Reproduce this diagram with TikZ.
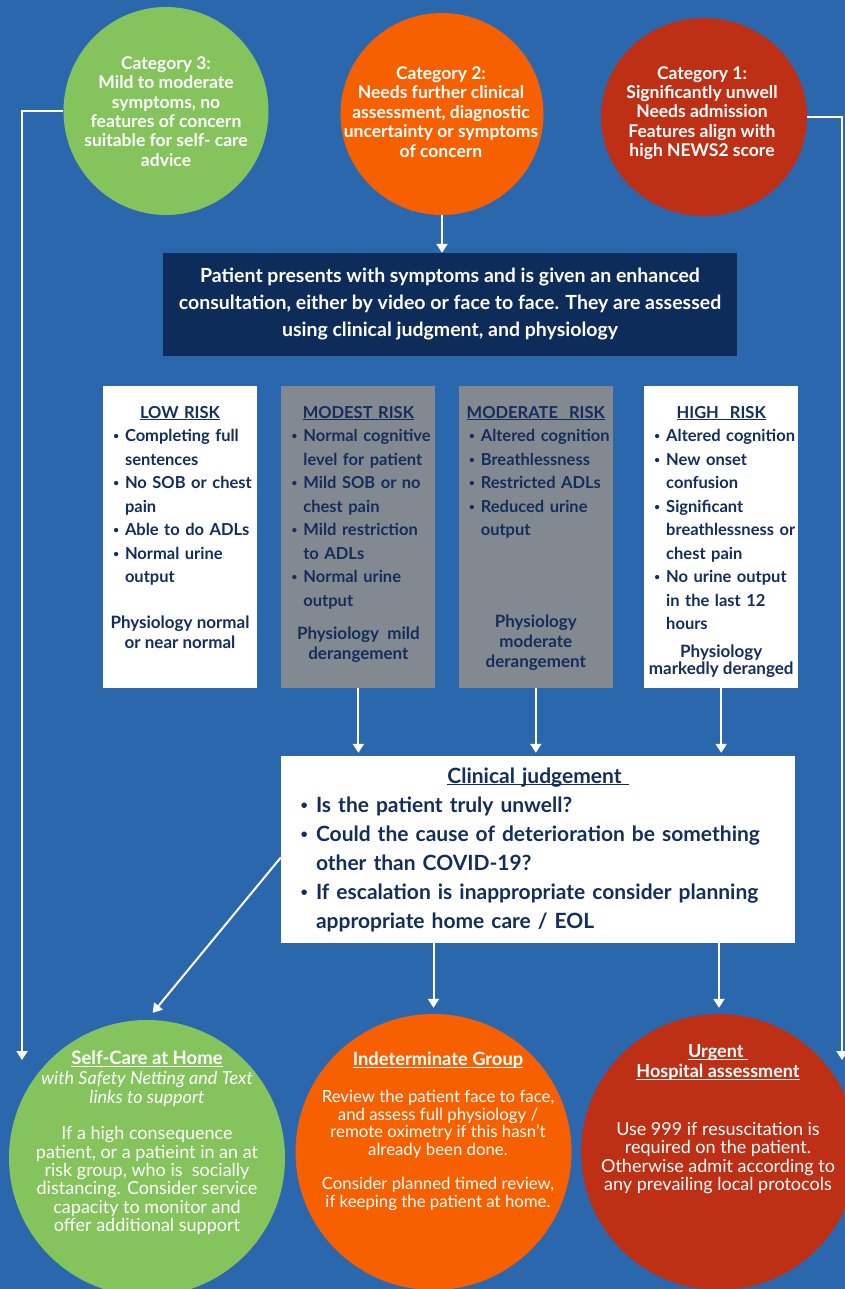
\documentclass[tikz,border=0pt]{standalone}
\usepackage{fontspec}
\setmainfont{Lato}
\usepackage{enumitem}
\usetikzlibrary{shapes,arrows.meta,positioning}
\definecolor{bgblue}{RGB}{43,103,173}
\definecolor{navy}{RGB}{14,44,90}
\definecolor{textnavy}{RGB}{20,46,92}
\definecolor{riskgray}{RGB}{131,137,145}
\definecolor{catgreen}{RGB}{133,196,93}
\definecolor{catorange}{RGB}{247,96,0}
\definecolor{catred}{RGB}{189,48,21}
\newcommand{\smallbullet}{\raisebox{0.1em}{\scalebox{0.6}{\textbullet}}}
\setlist[itemize]{label=\smallbullet, leftmargin=20pt, labelsep=6pt, itemsep=0pt,
    topsep=0pt, parsep=0pt, partopsep=0pt}
% underline that ignores descenders
\newcommand{\ulhead}[1]{\leavevmode\setbox0=\hbox{#1}\rlap{\copy0}\rule[-2.4pt]{\wd0}{1.1pt}}
\tikzstyle{category} = [ellipse, inner sep=0pt]
\tikzstyle{cattext} = [text=white, align=center, inner sep=0pt,
    font=\bfseries\fontsize{17.5}{19.4}\selectfont]
\tikzstyle{consult} = [rectangle, fill=navy, text=white, minimum width=574pt,
    minimum height=103pt, align=center, font=\bfseries\fontsize{19.5}{27}\selectfont]
\tikzstyle{riskbox} = [rectangle, minimum width=154pt, minimum height=302pt, inner sep=0pt]
\tikzstyle{risktext} = [text=textnavy, text width=150pt, inner sep=0pt, anchor=north,
    font=\bfseries\fontsize{16.5}{23.5}\selectfont]
\tikzstyle{physio} = [text=textnavy, align=center, inner sep=0pt, anchor=north,
    font=\bfseries\fontsize{17}{20}\selectfont]
\tikzstyle{judge} = [rectangle, fill=white, text=textnavy, minimum width=514pt,
    minimum height=187pt, text width=474pt, inner xsep=20pt, inner ysep=0pt,
    font=\bfseries\fontsize{21}{29}\selectfont]
\tikzstyle{outcome} = [circle, minimum size=276pt, inner sep=0pt]
\tikzstyle{outtext} = [text=white, align=center, inner sep=0pt, anchor=north]
\tikzstyle{line} = [draw=white, line width=2pt, -{Triangle[width=11pt,length=9pt]}]

\begin{document}
\begin{tikzpicture}[x=1pt, y=-1pt]
        \fill[bgblue] (0,0) rectangle (845,1289);
        \useasboundingbox (0,0) rectangle (845,1289);

        % Place nodes

        % 1. Categories
        \node [category, fill=catgreen, minimum width=205pt, minimum height=208pt] (cat3) at (166,111) {};
        \node [cattext] (cat3txt) at (166,111.5)
            {Category 3:\\ Mild to moderate\\ symptoms, no\\ features of concern\\ suitable for self- care\\ advice};
        \node [category, fill=catorange, minimum width=203pt, minimum height=202pt] (cat2) at (442,114) {};
        \node [cattext] (cat2txt) at (441,112)
            {Category 2:\\ Needs further clinical\\ assessment, diagnostic\\ uncertainty or symptoms\\ of concern};
        \node [category, fill=catred, minimum width=206pt, minimum height=198pt] (cat1) at (704,117) {};
        \node [cattext] (cat1txt) at (702,113)
            {Category 1:\\ Significantly unwell\\ Needs admission\\ Features align with\\ high NEWS2 score};

        % 2. Enhanced consultation
        \node [consult] (patient) at (450,304.5)
            {Patient presents with symptoms and is given an enhanced\\
             consultation, either by video or face to face. They are assessed\\
             using clinical judgment, and physiology};

        % 3. Risk levels
        \node [riskbox, fill=white] (low) at (180,537) {};
        \node [riskbox, fill=riskgray, right=24pt of low] (modest) {};
        \node [riskbox, fill=riskgray, right=23pt of modest] (moderate) {};
        \node [riskbox, fill=white, right=31pt of moderate] (high) {};

        \node [risktext] (lowtxt) at ([yshift=-20pt]low.north) {%
            {\centering\ulhead{LOW RISK}\par}
            \begin{itemize}
            \item Completing full\\ sentences
            \item No SOB or chest\\ pain
            \item Able to do ADLs
            \item Normal urine\\ output
            \end{itemize}};
        \node [physio] (lowphys) at ([yshift=-230pt]low.north) {Physiology normal\\ or near normal};

        \node [risktext] (modesttxt) at ([yshift=-20pt]modest.north) {%
            {\centering\ulhead{MODEST RISK}\par}
            \begin{itemize}
            \item Normal cognitive\\ level for patient
            \item Mild SOB or no\\ chest pain
            \item Mild restriction\\ to ADLs
            \item Normal urine\\ output
            \end{itemize}};
        \node [physio] (modestphys) at ([yshift=-240.5pt]modest.north) {Physiology\ \ mild\\ derangement};

        \node [risktext] (moderatetxt) at ([yshift=-20pt]moderate.north) {%
            {\centering\ulhead{MODERATE\ \ RISK}\par}
            \begin{itemize}
            \item Altered cognition
            \item Breathlessness
            \item Restricted ADLs
            \item Reduced urine\\ output
            \end{itemize}};
        \node [physio] (moderatephys) at ([yshift=-228.5pt]moderate.north) {Physiology\\ moderate\\ derangement};

        \node [risktext] (hightxt) at ([yshift=-20pt]high.north) {%
            {\centering\ulhead{HIGH\ \ RISK}\par}
            \begin{itemize}
            \item Altered cognition
            \item New onset\\ confusion
            \item Significant\\ breathlessness or\\ chest pain
            \item No urine output\\ in the last 12\\ hours
            \end{itemize}};
        \node [physio, font=\bfseries\fontsize{17}{17}\selectfont] (highphys) at ([yshift=-258.5pt]high.north)
            {Physiology\\ markedly deranged};

        % 4. Clinical judgement
        \node [judge] (judge) at (538,849.5) {%
            {\centering\ulhead{Clinical judgement\ }\par}
            \begin{itemize}[leftmargin=15pt, labelsep=8pt]
            \item Is the patient truly unwell?
            \item Could the cause of deterioration be something\\ other than COVID-19?
            \item If escalation is inappropriate consider planning\\ appropriate home care / EOL
            \end{itemize}};

        % 5. Outcomes
        \node [outcome, fill=catgreen] (selfcare) at (147,1158) {};
        \node [outcome, fill=catorange] (indet) at (433.5,1152) {};
        \node [outcome, fill=catred] (urgent) at (719,1152) {};

        \node [outtext, font=\fontsize{18}{18.3}\selectfont] (selfcaretxt) at (147,1051)
            {{\bfseries\fontsize{18.5}{18.3}\selectfont\ulhead{Self-Care at Home}}\\[1pt]
             {\itshape with Safety Netting and Text}\\[1pt]
             {\itshape links to support}\\[18pt]
             If a high consequence\\ patient, or a patieint in an at\\
             risk group, who is\ \ socially\\ distancing. Consider service\\
             capacity to monitor and\\ offer additional support};
        \node [outtext, font=\fontsize{16.8}{17.5}\selectfont] (indettxt) at (438,1052)
            {{\bfseries\fontsize{18.3}{17.5}\selectfont\ulhead{Indeterminate Group}}\\[19.5pt]
             Review the patient face to face,\\ and assess full physiology /\\
             remote oximetry if this hasn't\\ already been done.\\[17pt]
             Consider planned timed review,\\ if keeping the patient at home.};
        \node [outtext, font=\fontsize{18}{18.3}\selectfont] (urgenttxt) at (718,1044)
            {{\bfseries\ulhead{Urgent\ }}\\[1.7pt]
             {\bfseries\ulhead{Hospital assessment}}\\[40pt]
             Use 999 if resuscitation is\\ required on the patient.\\
             Otherwise admit according to\\ any prevailing local protocols};

        \coordinate (leftend) at (22,1060);
        \coordinate (rightend) at (842,1060);

        % Draw edges
        \path [line] (cat3.west) -| (leftend);
        \path [line] (cat1.east) -| (rightend);
        \path [line] (cat2.south) -- (cat2.south |- patient.north);
        \path [line, shorten >=3pt] (modest.south) -- (modest.south |- judge.north);
        \path [line, shorten >=3pt] (moderate.south) -- (moderate.south |- judge.north);
        \path [line, shorten >=3pt] (high.south) -- (high.south |- judge.north);
        \path [line, shorten >=9pt] ([yshift=-8pt]judge.west) -- (selfcare.north);
        \path [line, shorten >=6pt] (judge.south -| indet.north) -- (indet.north);
        \path [line, shorten >=6pt] (judge.south -| urgent.north) -- (urgent.north);
\end{tikzpicture}
\end{document}
